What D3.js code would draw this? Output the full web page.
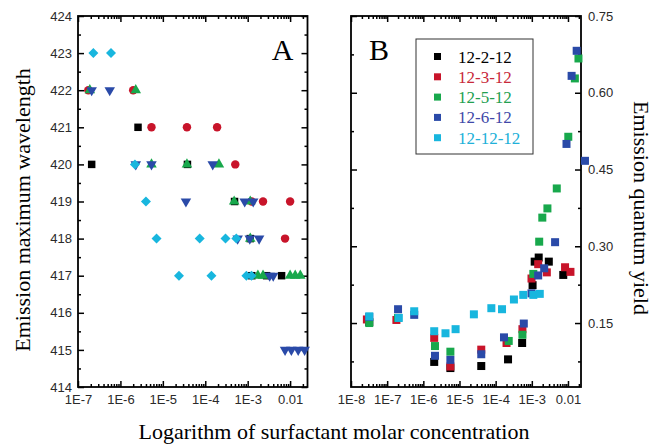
<!DOCTYPE html>
<html>
<head>
<meta charset="utf-8">
<script src="https://cdn.jsdelivr.net/npm/d3@7"></script>
<style>
  body { margin: 0; background: #fff; }
  svg { display: block; }
  .tick text { font-family: "Liberation Sans", Arial, sans-serif; font-size: 13px; fill: #2a2a2a; }
</style>
</head>
<body>
<div id="chart"></div>
<script>
// series names and colours
var names = ['12-2-12', '12-3-12', '12-5-12', '12-6-12', '12-12-12'];
var colors = ['#000000', '#c8142a', '#18a84c', '#2a4aa8', '#18b6de'];
var textColors = ['#000000', '#c8283a', '#22a050', '#4048a8', '#20b0d8'];

// panel A: emission maximum wavelength (nm) vs concentration (M)
var aConc = [
  [2.1e-7, 2.6e-6, 3.8e-5, 4.9e-4, 1.15e-3, 1.25e-3, 2.8e-3, 6.3e-3],
  [1.75e-7, 2.0e-6, 5.4e-6, 3.7e-5, 1.9e-4, 5.1e-4, 1.24e-3, 2.3e-3, 7.6e-3, 1.0e-2],
  [1.9e-7, 2.3e-6, 5.4e-6, 3.7e-5, 2.1e-4, 4.8e-4, 1.15e-3, 1.15e-3, 1.74e-3, 2.3e-3, 1.0e-2, 1.32e-2, 1.74e-2],
  [2.1e-7, 5.6e-7, 2.3e-6, 5.4e-6, 1.5e-4, 3.5e-5, 8.5e-4, 1.35e-3, 5.8e-4, 1.12e-3, 1.86e-3, 3.3e-3, 4.0e-3, 7.6e-3, 1.07e-2, 1.55e-2, 2.2e-2],
  [2.3e-7, 6.0e-7, 2.2e-6, 4.0e-6, 7.1e-6, 2.4e-5, 7.4e-5, 1.4e-4, 3.0e-4, 5.4e-4, 9.3e-4, 1.23e-3]
];
var aWave = [
  [420, 421, 420, 419, 418, 417, 417, 417],
  [422, 422, 421, 421, 421, 420, 419, 419, 418, 419],
  [422, 422, 420, 420, 420, 419, 419, 418, 417, 417, 417, 417, 417],
  [422, 422, 420, 420, 420, 419, 419, 419, 418, 418, 418, 417, 417, 415, 415, 415, 415],
  [423, 423, 420, 419, 418, 417, 418, 417, 418, 418, 417, 417]
];

// panel B: emission quantum yield vs concentration (M)
var bConc = [
  [3.2e-8, 2.0e-6, 5.6e-6, 4.0e-5, 2.2e-4, 5.4e-4, 1.05e-3, 1.2e-3, 1.55e-3, 2.95e-3, 7.4e-3],
  [2.75e-8, 1.8e-7, 2.0e-6, 5.6e-6, 4.0e-5, 2.0e-4, 5.5e-4, 9.8e-4, 1.5e-3, 2.6e-3, 8.3e-3, 1.17e-2],
  [3.2e-8, 2.0e-7, 2.1e-6, 5.6e-6, 2.3e-4, 5.5e-4, 1.1e-3, 1.6e-3, 1.95e-3, 2.7e-3, 4.9e-3, 1.02e-2, 1.55e-2, 1.95e-2],
  [3.2e-8, 2.0e-7, 5.6e-7, 2.1e-6, 5.6e-6, 4.0e-5, 1.7e-4, 6.0e-4, 9.8e-4, 1.5e-3, 2.2e-3, 4.4e-3, 9.1e-3, 1.26e-2, 1.74e-2, 2.95e-2],
  [3.2e-8, 2.1e-7, 5.6e-7, 2.0e-6, 4.1e-6, 7.8e-6, 2.5e-5, 7.6e-5, 1.5e-4, 3.2e-4, 5.8e-4, 1.1e-3, 1.66e-3]
];
var bYield = [
  [0.152, 0.074, 0.062, 0.066, 0.079, 0.111, 0.224, 0.270, 0.278, 0.270, 0.244],
  [0.157, 0.156, 0.121, 0.065, 0.098, 0.111, 0.138, 0.237, 0.265, 0.249, 0.259, 0.250],
  [0.150, 0.160, 0.105, 0.094, 0.115, 0.127, 0.246, 0.309, 0.356, 0.374, 0.413, 0.514, 0.628, 0.667],
  [0.162, 0.177, 0.166, 0.086, 0.078, 0.089, 0.122, 0.149, 0.208, 0.243, 0.257, 0.308, 0.500, 0.633, 0.682, 0.467],
  [0.163, 0.160, 0.173, 0.134, 0.130, 0.138, 0.167, 0.179, 0.177, 0.196, 0.205, 0.205, 0.207]
];

// tick values and labels
var aDecades = [1e-7, 1e-6, 1e-5, 1e-4, 1e-3, 1e-2];
var aDecadeLabels = ['1E-7', '1E-6', '1E-5', '1E-4', '1E-3', '0.01'];
var bDecades = [1e-8, 1e-7, 1e-6, 1e-5, 1e-4, 1e-3, 1e-2];
var bDecadeLabels = ['1E-8', '1E-7', '1E-6', '1E-5', '1E-4', '1E-3', '0.01'];
var aWaveTicks = [414, 415, 416, 417, 418, 419, 420, 421, 422, 423, 424];
var bYieldTicks = [0.15, 0.30, 0.45, 0.60, 0.75];

var W = 653, H = 447;
var serif = '"Liberation Serif", "Times New Roman", serif';
var svg = d3.select('#chart').append('svg').attr('width', W).attr('height', H);

function minorsOf(decades, xmax) {
  var out = [];
  decades.forEach(function(d) {
    for (var k = 2; k <= 9; k++) if (d * k <= xmax) out.push(d * k);
  });
  return out;
}

function drawAxes(g, x, y, w, h, xMajors, xLabels, yMajors, yMinors, yFmt, labelSide) {
  var xMinors = minorsOf(xMajors, x.domain()[1]);
  // bottom
  g.append('g').attr('transform', 'translate(0,' + h + ')')
    .call(d3.axisBottom(x).tickValues(xMajors).tickSize(-6).tickPadding(8)
      .tickFormat(function(d, i) { return xLabels[i]; }));
  g.append('g').attr('transform', 'translate(0,' + h + ')')
    .call(d3.axisBottom(x).tickValues(xMinors).tickSize(-3).tickFormat(''));
  // top
  g.append('g').call(d3.axisTop(x).tickValues(xMajors).tickSize(-6).tickFormat(''));
  g.append('g').call(d3.axisTop(x).tickValues(xMinors).tickSize(-3).tickFormat(''));
  // left
  g.append('g').call(d3.axisLeft(y).tickValues(yMajors).tickSize(-6).tickPadding(6)
    .tickFormat(labelSide === 'left' ? yFmt : ''));
  g.append('g').call(d3.axisLeft(y).tickValues(yMinors).tickSize(-3).tickFormat(''));
  // right
  g.append('g').attr('transform', 'translate(' + w + ',0)')
    .call(d3.axisRight(y).tickValues(yMajors).tickSize(-6).tickPadding(7)
      .tickFormat(labelSide === 'right' ? yFmt : ''));
  g.append('g').attr('transform', 'translate(' + w + ',0)')
    .call(d3.axisRight(y).tickValues(yMinors).tickSize(-3).tickFormat(''));

  g.selectAll('.domain').remove();
  g.selectAll('.tick line').attr('stroke', '#000').attr('stroke-width', 1.5);
  g.append('rect').attr('width', w).attr('height', h)
    .attr('fill', 'none').attr('stroke', '#000').attr('stroke-width', 1.8);
}

// ---- panel A ----
var aLeft = 78, aTop = 16, aW = 229.5, aH = 371;
var gA = svg.append('g').attr('transform', 'translate(' + aLeft + ',' + aTop + ')');
var xA = d3.scaleLog().domain([1e-7, Math.pow(10, -1.59)]).range([0, aW]);
var yA = d3.scaleLinear().domain([414, 424]).range([aH, 0]);
drawAxes(gA, xA, yA, aW, aH, aDecades, aDecadeLabels, aWaveTicks,
  d3.range(414.5, 424, 1), d3.format('d'), 'left');

var shapes = [
  { type: d3.symbolSquare, size: 56, rot: 0 },
  { type: d3.symbolCircle, size: 56, rot: 0 },
  { type: d3.symbolTriangle, size: 48, rot: 0 },
  { type: d3.symbolTriangle, size: 48, rot: 180 },
  { type: d3.symbolSquare, size: 50, rot: 45 }
];

names.forEach(function(n, s) {
  var pts = aConc[s].map(function(c, i) { return [c, aWave[s][i]]; });
  gA.append('g').selectAll('path').data(pts).enter().append('path')
    .attr('d', d3.symbol().type(shapes[s].type).size(shapes[s].size))
    .attr('transform', function(d) {
      return 'translate(' + xA(d[0]) + ',' + yA(d[1]) + ') rotate(' + shapes[s].rot + ')';
    })
    .attr('fill', colors[s]);
});

gA.append('text').attr('x', aW - 14).attr('y', 44).attr('text-anchor', 'end')
  .style('font-family', serif).style('font-size', '30px')
  .text('A');

// ---- panel B ----
var bLeft = 351, bTop = 16, bW = 230, bH = 371;
var gB = svg.append('g').attr('transform', 'translate(' + bLeft + ',' + bTop + ')');
var xB = d3.scaleLog().domain([1e-8, Math.pow(10, -1.64)]).range([0, bW]);
var yB = d3.scaleLinear().domain([0.025, 0.75]).range([bH, 0]);
drawAxes(gB, xB, yB, bW, bH, bDecades, bDecadeLabels, bYieldTicks,
  [0.075, 0.225, 0.375, 0.525, 0.675], d3.format('.2f'), 'right');

names.forEach(function(n, s) {
  var pts = bConc[s].map(function(c, i) { return [c, bYield[s][i]]; });
  gB.append('g').selectAll('rect').data(pts).enter().append('rect')
    .attr('x', function(d) { return xB(d[0]) - 4; })
    .attr('y', function(d) { return yB(d[1]) - 4; })
    .attr('width', 8).attr('height', 8)
    .attr('fill', colors[s]);
});

gB.append('text').attr('x', 18).attr('y', 44)
  .style('font-family', serif).style('font-size', '30px')
  .text('B');

// legend
var leg = gB.append('g').attr('transform', 'translate(65,23)');
leg.append('rect').attr('width', 117).attr('height', 115)
  .attr('fill', '#fff').attr('stroke', '#333').attr('stroke-width', 1);
names.forEach(function(n, s) {
  leg.append('rect').attr('x', 18).attr('y', 14 + s * 20.3).attr('width', 7).attr('height', 7)
    .attr('fill', colors[s]);
  leg.append('text').attr('x', 42).attr('y', 23.5 + s * 20.3)
    .style('font-family', serif).style('font-size', '17px')
    .attr('fill', textColors[s]).text(n);
});

// axis titles
svg.append('text').attr('transform', 'translate(30,210) rotate(-90)')
  .attr('text-anchor', 'middle').style('font-family', serif).style('font-size', '22px')
  .text('Emission maximum wavelength');
svg.append('text').attr('transform', 'translate(634,208) rotate(90)')
  .attr('text-anchor', 'middle').style('font-family', serif).style('font-size', '22px')
  .text('Emission quantum yield');
svg.append('text').attr('x', 334).attr('y', 439)
  .attr('text-anchor', 'middle').style('font-family', serif).style('font-size', '22px')
  .text('Logarithm of surfactant molar concentration');
</script>
</body>
</html>
